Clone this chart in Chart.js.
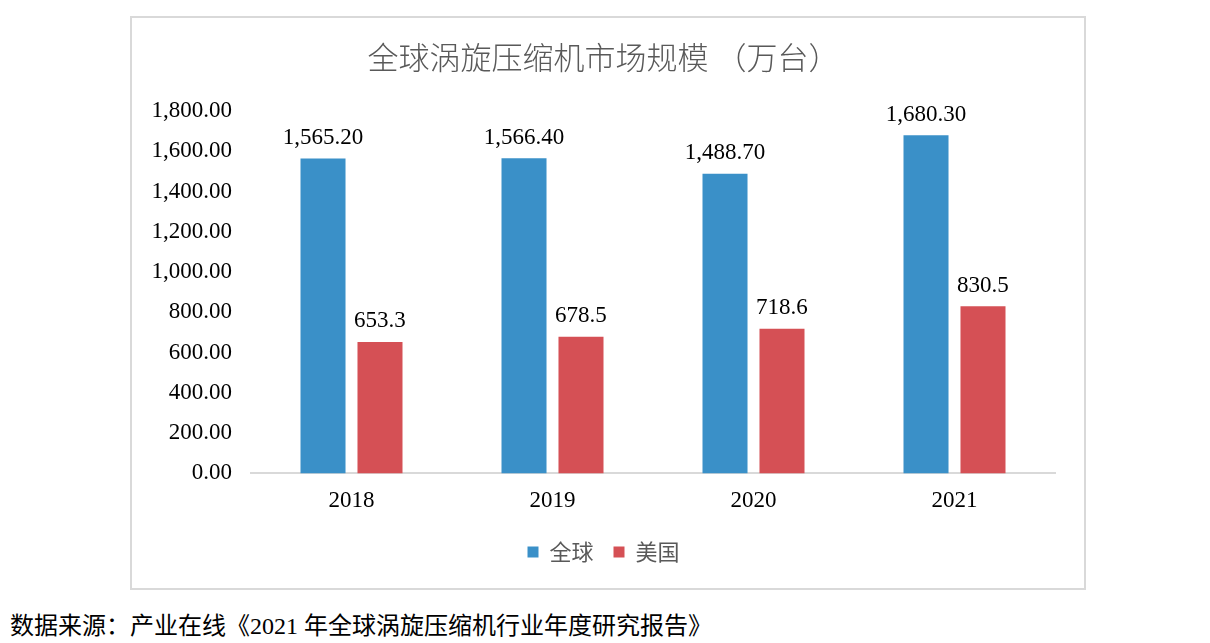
<!DOCTYPE html>
<html>
<head>
<meta charset="utf-8">
<script src="https://cdn.jsdelivr.net/npm/chart.js@4"></script>
<style>
  body { margin: 0; background: #fff; }
  #box {
    position: absolute; left: 130px; top: 16px;
    width: 952px; height: 570px;
    border: 2px solid #d9d9d9;
  }
  #source {
    position: absolute; left: 10px; top: 606px;
    font-family: "Liberation Serif", "Noto Sans CJK SC", serif;
    font-size: 24px; color: #000; white-space: nowrap;
  }
</style>
</head>
<body>
<div id="box"><canvas id="chart" width="952" height="570"></canvas></div>
<div id="source">数据来源：产业在线《2021 年全球涡旋压缩机行业年度研究报告》</div>
<script>
// 数据
const years = ["2018", "2019", "2020", "2021"];
const globalVals = [1565.2, 1566.4, 1488.7, 1680.3];
const usVals = [653.3, 678.5, 718.6, 830.5];
const seriesNames = ["全球", "美国"];

const serif = "'Liberation Serif', 'Noto Sans CJK SC', serif";
const cjk = "'Noto Sans CJK SC', sans-serif";

// 柱顶数值
const barLabels = {
  id: "barLabels",
  afterDatasetsDraw(chart) {
    const ctx = chart.ctx;
    ctx.save();
    ctx.font = "23px " + serif;
    ctx.fillStyle = "#000";
    ctx.textAlign = "center";
    ctx.textBaseline = "bottom";
    chart.data.datasets.forEach((ds, di) => {
      const meta = chart.getDatasetMeta(di);
      meta.data.forEach((bar, i) => {
        const v = ds.data[i];
        const txt = di === 0
          ? v.toLocaleString("en-US", { minimumFractionDigits: 2, maximumFractionDigits: 2 })
          : v.toFixed(1);
        ctx.fillText(txt, bar.x, bar.y - 9);
      });
    });
    ctx.restore();
  },
};

new Chart(document.getElementById("chart"), {
  type: "bar",
  data: {
    labels: years,
    datasets: [
      { label: seriesNames[0], data: globalVals, backgroundColor: "#3a90c8" },
      { label: seriesNames[1], data: usVals, backgroundColor: "#d55055" },
    ],
  },
  options: {
    responsive: false,
    animation: false,
    categoryPercentage: 0.567,
    barPercentage: 0.79,
    layout: { padding: { left: 20, right: 29, top: 0, bottom: 15 } },
    plugins: {
      title: {
        display: true,
        text: "全球涡旋压缩机市场规模 （万台）",
        color: "#595959",
        font: { family: cjk, size: 31, weight: "300" },
        padding: { top: 21, bottom: 35 },
      },
      legend: {
        position: "bottom",
        labels: {
          color: "#595959",
          font: { family: cjk, size: 22 },
          boxWidth: 11,
          boxHeight: 11,
          padding: 20,
        },
      },
      tooltip: { enabled: false },
    },
    scales: {
      x: {
        grid: { display: false },
        border: { color: "#d9d9d9", width: 2 },
        ticks: { color: "#000", font: { family: serif, size: 23 }, padding: 6 },
      },
      y: {
        min: 0,
        max: 1800,
        grid: { display: false },
        border: { display: false },
        afterFit: (s) => { s.width = 99; },
        ticks: {
          stepSize: 200,
          color: "#000",
          padding: 11,
          font: { family: serif, size: 23 },
          callback: (v) => v.toLocaleString("en-US", { minimumFractionDigits: 2, maximumFractionDigits: 2 }),
        },
      },
    },
  },
  plugins: [barLabels],
});
</script>
</body>
</html>
